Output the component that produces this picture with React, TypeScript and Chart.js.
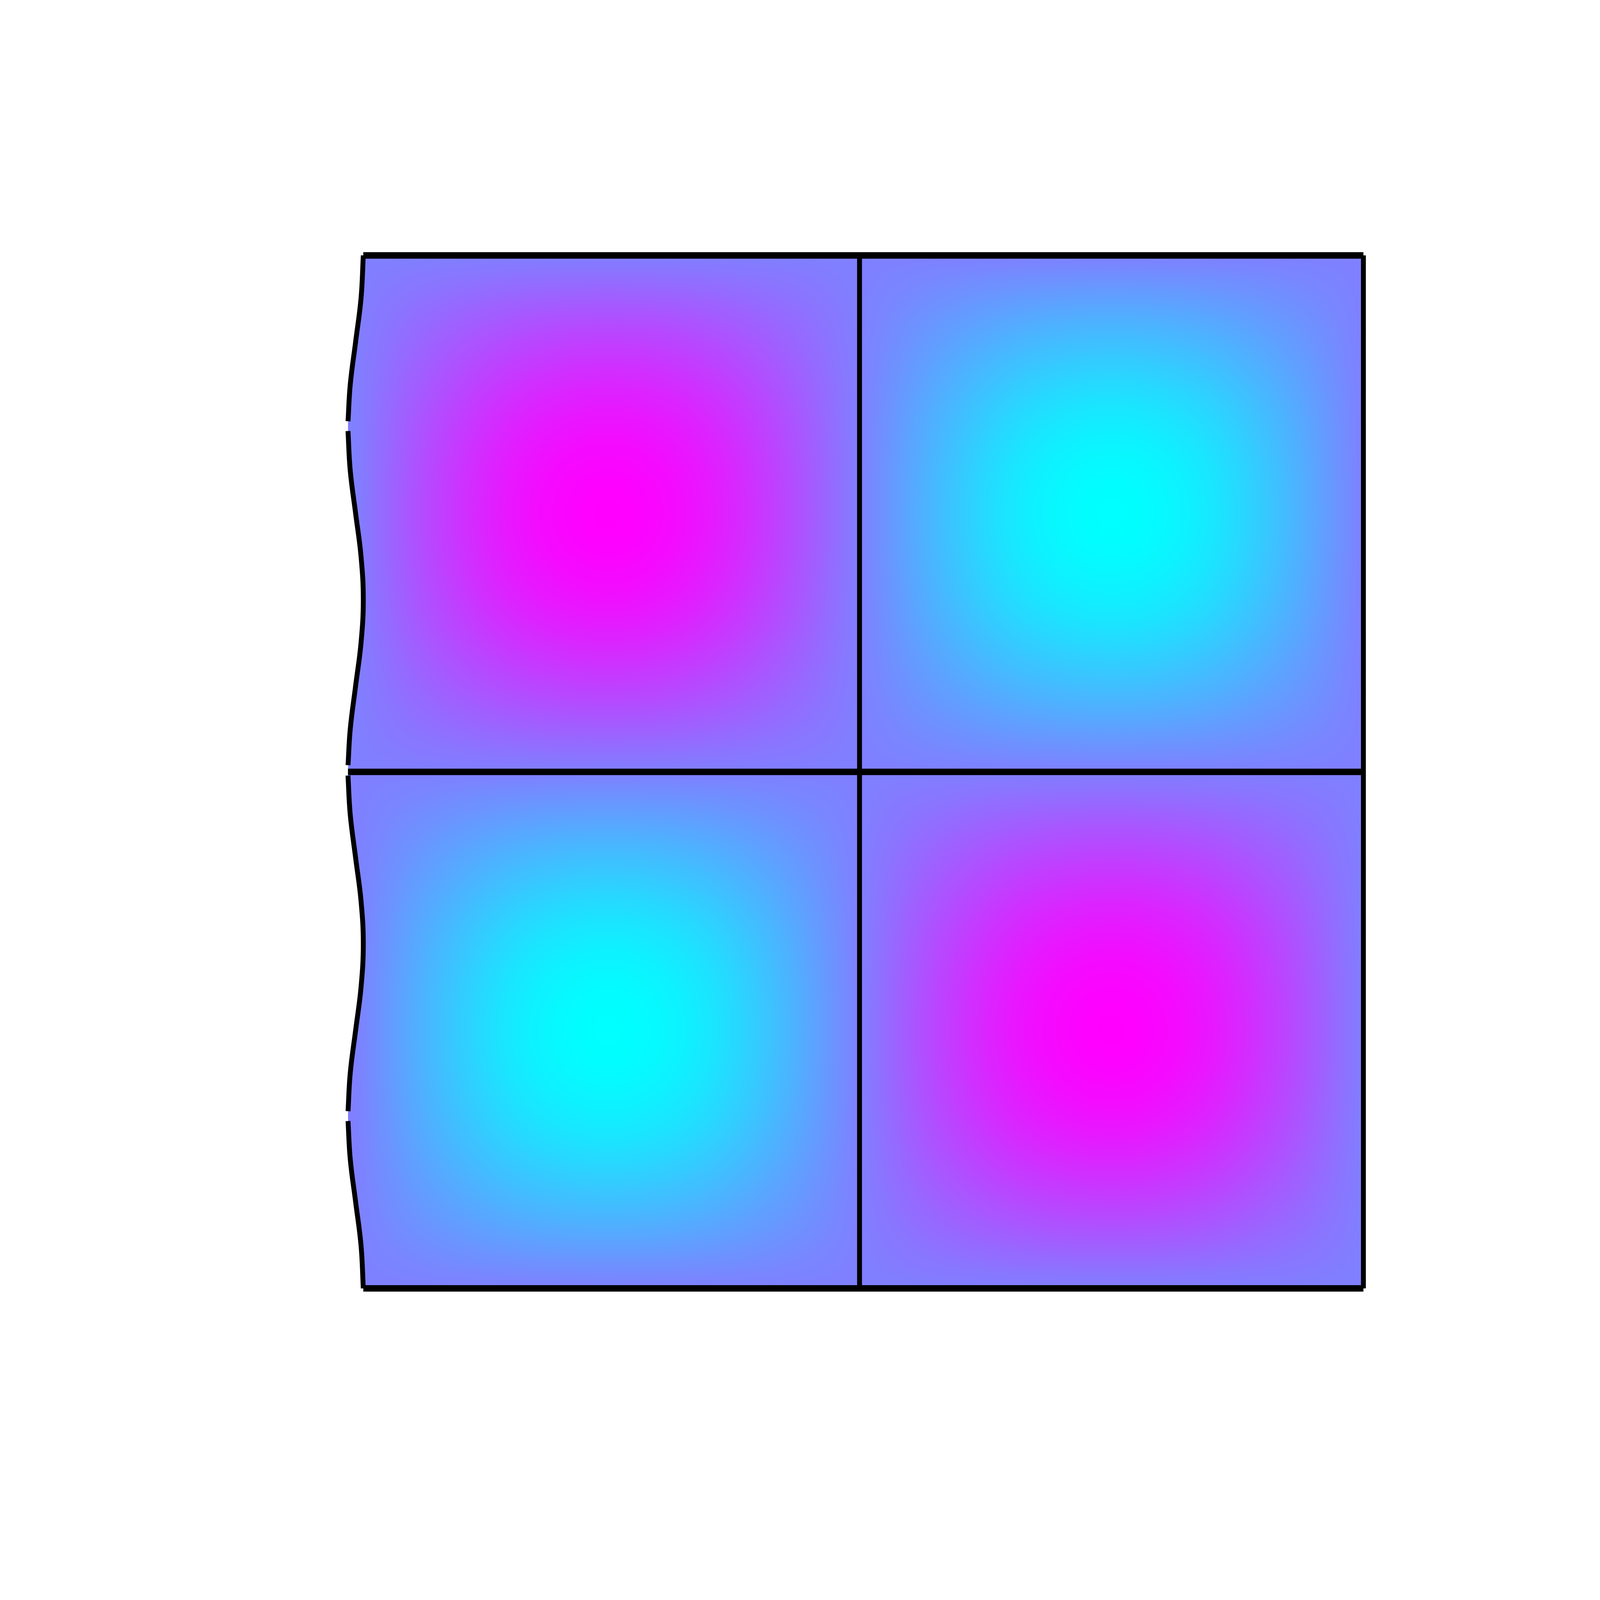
import { useEffect, useRef } from 'react';
import Chart from 'chart.js/auto';

const WIDTH = 6222;
const HEIGHT = 4667;

// mesh cell boundaries (data units)
const colEdges = [0, 1, 2];
const rowEdges = [0, 1, 2];

// peak of each cell, bottom row first: +1 = magenta, -1 = cyan
const cellPeaks = [
  [-1, 1],
  [1, -1],
];

// shape of a bump across one cell, sampled at 0, 1/6 ... 1
const bumpProfile = [0, 0.5, 0.87, 1, 0.87, 0.5, 0];

// wavy left edge of the mesh, top to bottom
const waveY = [
  2, 1.917, 1.833, 1.75, 1.679,
  1.66, 1.583, 1.5, 1.417, 1.333, 1.25, 1.167, 1.083, 1.013,
  0.993, 0.917, 0.833, 0.75, 0.667, 0.583, 0.5, 0.417, 0.343,
  0.324, 0.25, 0.167, 0.083, 0,
];
const waveX = [
  0.0152, 0.0107, 0, -0.0107, -0.0151,
  -0.0152, -0.0107, 0, 0.0107, 0.0152, 0.0107, 0, -0.0107, -0.0151,
  -0.0152, -0.0107, 0, 0.0107, 0.0152, 0.0107, 0, -0.0107, -0.0151,
  -0.0151, -0.0107, 0, 0.0107, 0.0152,
];
// the edge line is broken after these indices
const waveBreakAfter = [4, 13, 22];

// where each horizontal mesh line starts (rows bottom to top)
const rowLineStartX = [0.0152, -0.0152, 0.0152];

// axis ranges (a little wider than the mesh)
const X_RANGE = [-0.1, 2.1];
const Y_RANGE = [-0.1, 2.1];

// placement in the 6222 x 4667 reference frame
const X0_PX = 1383;
const X_UNIT_PX = 1959.5;
const Y0_PX = 3758;
const Y_UNIT_PX = 1506.5;
const LINE_W = 19;

function profileAt(u: number) {
  const n = bumpProfile.length;
  const get = (j: number) => {
    if (j < 0) return -bumpProfile[-j];
    if (j >= n) return -bumpProfile[2 * (n - 1) - j];
    return bumpProfile[j];
  };
  const s = Math.min(Math.max(u, 0), 1) * (n - 1);
  let k = Math.floor(s);
  if (k > n - 2) k = n - 2;
  const t = s - k;
  const p0 = get(k - 1), p1 = get(k), p2 = get(k + 1), p3 = get(k + 2);
  return 0.5 * (2 * p1 + (-p0 + p2) * t + (2 * p0 - 5 * p1 + 4 * p2 - p3) * t * t + (-p0 + 3 * p1 - 3 * p2 + p3) * t * t * t);
}

function cellOf(edges: number[], v: number) {
  for (let i = 0; i < edges.length - 2; i++) {
    if (v < edges[i + 1]) return i;
  }
  return edges.length - 2;
}

// paints the smooth field under the mesh lines, clipped to the mesh outline
const fieldPlugin = {
  id: 'field',
  beforeDatasetsDraw(chart: any) {
    const { ctx } = chart;
    const xs = chart.scales.x;
    const ys = chart.scales.y;
    const dpr = chart.currentDevicePixelRatio || 1;
    const lastCol = colEdges[colEdges.length - 1];
    const lastRow = rowEdges[rowEdges.length - 1];
    const L = Math.floor(xs.getPixelForValue(Math.min(...waveX)) * dpr);
    const R = Math.ceil(xs.getPixelForValue(lastCol) * dpr);
    const T = Math.floor(ys.getPixelForValue(lastRow) * dpr);
    const B = Math.ceil(ys.getPixelForValue(rowEdges[0]) * dpr);
    const w = R - L;
    const h = B - T;

    const colIdx = new Int8Array(w);
    const colShape = new Float32Array(w);
    for (let i = 0; i < w; i++) {
      const xd = xs.getValueForPixel((L + i + 0.5) / dpr);
      const c = cellOf(colEdges, xd);
      colIdx[i] = c;
      colShape[i] = profileAt((xd - colEdges[c]) / (colEdges[c + 1] - colEdges[c]));
    }
    const rowIdx = new Int8Array(h);
    const rowShape = new Float32Array(h);
    for (let j = 0; j < h; j++) {
      const yd = ys.getValueForPixel((T + j + 0.5) / dpr);
      const r = cellOf(rowEdges, yd);
      rowIdx[j] = r;
      rowShape[j] = profileAt((yd - rowEdges[r]) / (rowEdges[r + 1] - rowEdges[r]));
    }

    const off = document.createElement('canvas');
    off.width = w;
    off.height = h;
    const octx = off.getContext('2d')!;
    const img = octx.createImageData(w, h);
    const d = img.data;
    for (let j = 0; j < h; j++) {
      const peaks = cellPeaks[rowIdx[j]];
      const rs = rowShape[j];
      let p = j * w * 4;
      for (let i = 0; i < w; i++) {
        const v = peaks[colIdx[i]] * colShape[i] * rs;
        const t = (v + 1) / 2;
        // "cool" colour map: cyan -> magenta
        d[p] = Math.round(255 * t);
        d[p + 1] = Math.round(255 * (1 - t));
        d[p + 2] = 255;
        d[p + 3] = 255;
        p += 4;
      }
    }
    octx.putImageData(img, 0, 0);

    ctx.save();
    ctx.beginPath();
    waveX.forEach((wx, i) => {
      const px = xs.getPixelForValue(wx);
      const py = ys.getPixelForValue(waveY[i]);
      if (i === 0) ctx.moveTo(px, py);
      else ctx.lineTo(px, py);
    });
    ctx.lineTo(xs.getPixelForValue(lastCol), ys.getPixelForValue(rowEdges[0]));
    ctx.lineTo(xs.getPixelForValue(lastCol), ys.getPixelForValue(lastRow));
    ctx.closePath();
    ctx.clip();
    ctx.drawImage(off, L / dpr, T / dpr, w / dpr, h / dpr);
    ctx.restore();
  },
};

function lineDataset(points: { x: number; y: number }[], width: number, tension = 0) {
  return {
    data: points,
    showLine: true,
    borderColor: '#000000',
    borderWidth: width,
    borderCapStyle: 'butt' as const,
    borderJoinStyle: 'miter' as const,
    pointRadius: 0,
    pointHoverRadius: 0,
    tension,
    fill: false,
    clip: false as const,
  };
}

const MeshChart = () => {
  const canvasRef = useRef<HTMLCanvasElement | null>(null);
  const chartRef = useRef<Chart | null>(null);

  useEffect(() => {
    if (!canvasRef.current) return;
    if (chartRef.current) chartRef.current.destroy();

    const cssW = window.innerWidth;
    const cssH = window.innerHeight;
    const kX = cssW / WIDTH;
    const kY = cssH / HEIGHT;

    const datasets: any[] = [];
    let start = 0;
    [...waveBreakAfter, waveX.length - 1].forEach((end) => {
      const pts = [];
      for (let i = start; i <= end; i++) pts.push({ x: waveX[i], y: waveY[i] });
      datasets.push(lineDataset(pts, LINE_W * kX, 0.4));
      start = end + 1;
    });
    const lastCol = colEdges[colEdges.length - 1];
    const lastRow = rowEdges[rowEdges.length - 1];
    rowEdges.forEach((y, i) => {
      datasets.push(lineDataset([{ x: rowLineStartX[i], y }, { x: lastCol, y }], LINE_W * kY));
    });
    colEdges.slice(1).forEach((x) => {
      datasets.push(lineDataset([{ x, y: rowEdges[0] }, { x, y: lastRow }], LINE_W * kX));
    });

    const areaLeft = (X0_PX + X_UNIT_PX * X_RANGE[0]) * kX;
    const areaRight = (X0_PX + X_UNIT_PX * X_RANGE[1]) * kX;
    const areaTop = (Y0_PX - Y_UNIT_PX * Y_RANGE[1]) * kY;
    const areaBottom = (Y0_PX - Y_UNIT_PX * Y_RANGE[0]) * kY;

    canvasRef.current.style.width = cssW + 'px';
    canvasRef.current.style.height = cssH + 'px';

    chartRef.current = new Chart(canvasRef.current, {
      type: 'scatter',
      data: { datasets },
      options: {
        animation: false,
        responsive: false,
        maintainAspectRatio: false,
        events: [],
        layout: {
          padding: {
            left: areaLeft,
            right: cssW - areaRight,
            top: areaTop,
            bottom: cssH - areaBottom,
          },
        },
        scales: {
          x: { type: 'linear', min: X_RANGE[0], max: X_RANGE[1], display: false },
          y: { type: 'linear', min: Y_RANGE[0], max: Y_RANGE[1], display: false },
        },
        plugins: {
          legend: { display: false },
          tooltip: { enabled: false },
          title: { display: false },
        },
      },
      plugins: [fieldPlugin],
    });

    return () => {
      if (chartRef.current) {
        chartRef.current.destroy();
        chartRef.current = null;
      }
    };
  }, []);

  return (
    <div style={{ position: 'fixed', left: 0, top: 0, width: '100vw', height: '100vh', background: '#ffffff', overflow: 'hidden' }}>
      <canvas ref={canvasRef} style={{ display: 'block' }}></canvas>
    </div>
  );
};

export default function App() {
  return <MeshChart />;
}
